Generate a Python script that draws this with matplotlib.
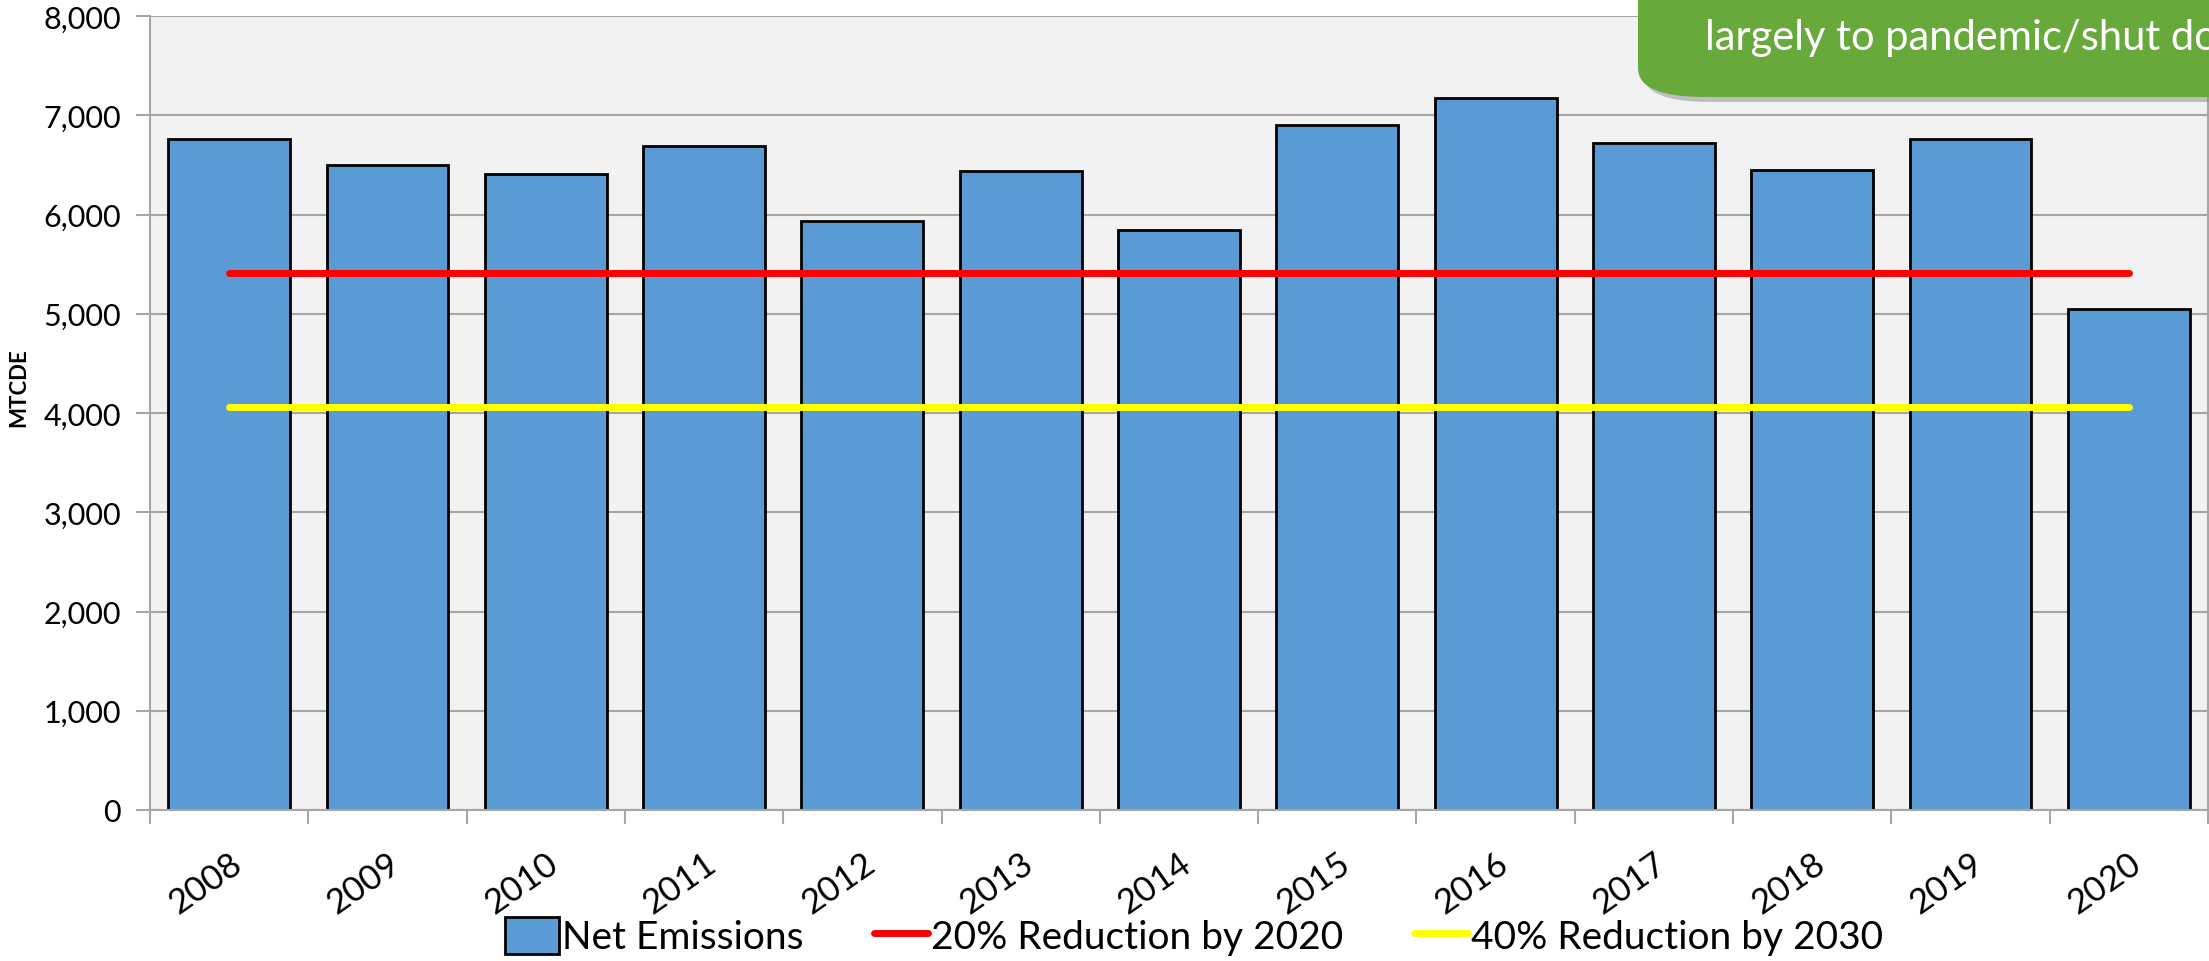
import numpy as np
import matplotlib.pyplot as plt
import matplotlib.transforms as mtransforms
from matplotlib.patches import FancyBboxPatch
from matplotlib.lines import Line2D
from matplotlib.patches import Patch

plt.rcParams['font.family'] = ['Lato', 'DejaVu Sans']

years = ['2008', '2009', '2010', '2011', '2012', '2013', '2014',
         '2015', '2016', '2017', '2018', '2019', '2020']
net_emissions = [6760, 6500, 6405, 6693, 5935, 6440, 5844,
                 6905, 7177, 6720, 6452, 6756, 5045]
target_2020 = 5408  # 20% below 2008
target_2030 = 4056  # 40% below 2008
callout_text = 'largely to pandemic/shut down'

W, H = 2209, 962
fig = plt.figure(figsize=(W / 100, H / 100), dpi=100)
ax = fig.add_axes([150 / W, 1 - 811 / H, 2058 / W, (811 - 17) / H])
ax.set_facecolor('#f2f2f2')

x = np.arange(len(years))
ax.bar(x, net_emissions, width=0.77, color='#5b9bd5', edgecolor='black',
       linewidth=2, zorder=2)
ax.plot([x[0], x[-1]], [target_2020] * 2, color='#ff0000', lw=5,
        solid_capstyle='round', zorder=3)
ax.plot([x[0], x[-1]], [target_2030] * 2, color='#ffff00', lw=5,
        solid_capstyle='round', zorder=3)

ax.set_xlim(-0.5, len(years) - 0.5)
ax.set_ylim(0, 8000)
ax.set_yticks(np.arange(0, 8001, 1000))
ax.set_yticklabels([f'{v:,}' for v in range(0, 8001, 1000)], fontsize=22)
ax.yaxis.grid(True, color='#a6a6a6', lw=1.5, zorder=0)
ax.set_axisbelow(True)

ax.set_xticks(np.arange(-0.5, len(years), 1), minor=False)
ax.set_xticklabels([])
ax.set_xticks(x, minor=True)
ax.set_xticklabels(years, minor=True, rotation=35, ha='right',
                   va='top', rotation_mode='anchor', fontsize=25)
shift = mtransforms.ScaledTranslation(-8 / 100, 0, fig.dpi_scale_trans)
for lbl in ax.get_xticklabels(minor=True):
    lbl.set_transform(lbl.get_transform() + shift)
ax.tick_params(axis='x', which='major', length=10, width=1.5, color='#a6a6a6')
ax.tick_params(axis='x', which='minor', length=0, pad=26)
ax.tick_params(axis='y', length=10, width=1.5, color='#a6a6a6', pad=11)
for s in ax.spines.values():
    s.set_color('#a6a6a6')
    s.set_linewidth(1.5)
ax.spines['top'].set_visible(False)

fig.text(19 / W, 1 - 388 / H, 'MTCDE', rotation=90, fontsize=16,
         fontweight='bold', ha='center', va='center')

handles = [Patch(facecolor='#5b9bd5', edgecolor='black', linewidth=2),
           Line2D([], [], color='#ff0000', lw=5, solid_capstyle='round'),
           Line2D([], [], color='#ffff00', lw=5, solid_capstyle='round')]
labels = ['Net Emissions', '20% Reduction by 2020', '40% Reduction by 2030']
fig.legend(handles, labels, loc='center', bbox_to_anchor=(1194 / W, 1 - 937 / H),
           ncol=3, frameon=False, fontsize=28, handlelength=1.4,
           handleheight=1.1, handletextpad=0.08, columnspacing=1.8)

# green callout box, clipped by the figure edge
shadow = FancyBboxPatch((1643 / W, 1 - 103 / H), 700 / W, 200 / H,
                        boxstyle='round,pad=0,rounding_size=0.03',
                        transform=fig.transFigure, facecolor='#8c8c8c',
                        edgecolor='none', alpha=0.5, zorder=5)
box = FancyBboxPatch((1638 / W, 1 - 98 / H), 700 / W, 200 / H,
                     boxstyle='round,pad=0,rounding_size=0.03',
                     transform=fig.transFigure, facecolor='#68a93c',
                     edgecolor='none', zorder=6)
fig.add_artist(shadow)
fig.add_artist(box)
fig.text(1705 / W, 1 - 38 / H, callout_text, color='white', fontsize=30,
         ha='left', va='center', zorder=7)

fig.savefig('out.png', dpi=100)
